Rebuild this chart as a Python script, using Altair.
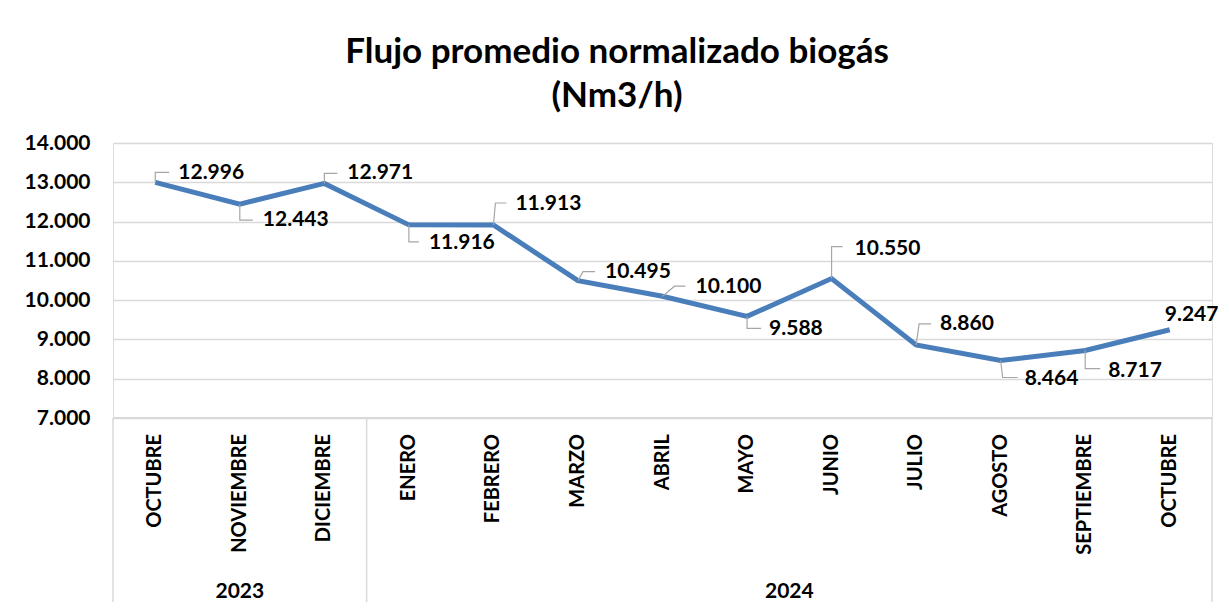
import altair as alt
import pandas as pd

# ---- data ----
meses = ["OCTUBRE", "NOVIEMBRE", "DICIEMBRE", "ENERO", "FEBRERO", "MARZO", "ABRIL",
         "MAYO", "JUNIO", "JULIO", "AGOSTO", "SEPTIEMBRE", "OCTUBRE"]
anios = ["2023", "2023", "2023", "2024", "2024", "2024", "2024",
         "2024", "2024", "2024", "2024", "2024", "2024"]
valores = [12996, 12443, 12971, 11916, 11913, 10495, 10100, 9588, 10550, 8860, 8464, 8717, 9247]
titulo = ["Flujo promedio normalizado biogás", "(Nm3/h)"]
y_ticks = [7000, 8000, 9000, 10000, 11000, 12000, 13000, 14000]

# ---- label placement (pixel offsets from each point; style, not data) ----
elbow_dx = [0, 0, 0, 0, 2, 5, 12, 0, 0, 3, 2, 0, None]
elbow_dy = [-10, 16, -10, 17, -22, -9, -10, 12, -32, -21, 17, 18, None]
end_dx = [14, 13, 13, 10, 13, 17, 23, 14, 11, 15, 17, 15, None]
text_dx = [23, 23, 23, 20, 22, 27, 33, 22, 23, 24, 24, 23, -5]
text_dy = [-9, 16, -10, 18, -21, -9, -9, 13, -30, -21, 19, 20, -15]

W, H = 1099, 275
Y_MIN, Y_MAX = 7000, 14000
N = len(valores)
PX_IDX = W / N
U_PX = (Y_MAX - Y_MIN) / H
FONT = "Lato"
GRID = "#d9d9d9"
LINE = "#4A7EBB"

idx = list(range(N))
etiquetas = [f"{v:,}".replace(",", ".") for v in valores]

df = pd.DataFrame({"i": idx, "mes": meses, "anio": anios, "v": valores, "etq": etiquetas})

df_txt = pd.DataFrame({
    "tx": [i + d / PX_IDX for i, d in zip(idx, text_dx)],
    "ty": [v - d * U_PX for v, d in zip(valores, text_dy)],
    "etq": etiquetas,
})

rows = []
for i, v, ex, ey, nx in zip(idx, valores, elbow_dx, elbow_dy, end_dx):
    if ex is None:
        continue
    yy = v - ey * U_PX
    rows.append({"k": i, "o": 0, "lx": i, "ly": v})
    rows.append({"k": i, "o": 1, "lx": i + ex / PX_IDX, "ly": yy})
    rows.append({"k": i, "o": 2, "lx": i + nx / PX_IDX, "ly": yy})
df_lead = pd.DataFrame(rows)

# year groups
grupos = []
for a in dict.fromkeys(anios):
    ii = [i for i, y in zip(idx, anios) if y == a]
    grupos.append({"anio": a, "c": sum(ii) / len(ii)})
df_years = pd.DataFrame(grupos)
sep = [-0.5]
for k in range(1, N):
    if anios[k] != anios[k - 1]:
        sep.append(k - 0.5)
sep.append(N - 0.5)
df_sep = pd.DataFrame({"s": sep})

xscale = alt.Scale(domain=[-0.5, N - 0.5], nice=False, zero=False)
yscale = alt.Scale(domain=[Y_MIN, Y_MAX], nice=False, zero=False)
yaxis = alt.Axis(values=y_ticks, grid=True, gridColor=GRID, gridWidth=1.3, domain=False,
                 ticks=False, labelFont=FONT, labelFontSize=21, labelFontWeight="bold",
                 labelColor="#000000", labelPadding=23, title=None,
                 labelExpr="replace(format(datum.value, ',.0f'), ',', '.')")


def X(f):
    return alt.X(f, scale=xscale, axis=None)


def Y(f):
    return alt.Y(f, scale=yscale, axis=yaxis)


base = alt.Chart(df)

line = base.mark_line(color=LINE, strokeWidth=5, strokeJoin="miter").encode(
    x=X("i:Q"), y=Y("v:Q"))

leaders = alt.Chart(df_lead).mark_line(color="#a6a6a6", strokeWidth=1.2).encode(
    x=X("lx:Q"), y=Y("ly:Q"), detail="k:N", order="o:Q")

labels = alt.Chart(df_txt).mark_text(
    align="left", baseline="middle", font=FONT, fontSize=21, fontWeight="bold", color="#000000"
).encode(x=X("tx:Q"), y=Y("ty:Q"), text="etq:N")

month_lbl = base.mark_text(
    angle=270, align="right", baseline="middle", font=FONT, fontSize=20, fontWeight="bold",
    color="#000000"
).encode(x=X("i:Q"), y=alt.value(H + 16), text="mes:N")

year_lbl = alt.Chart(df_years).mark_text(
    align="center", baseline="middle", font=FONT, fontSize=21, fontWeight="bold", color="#000000"
).encode(x=X("c:Q"), y=alt.value(H + 174), text="anio:N")

seps = alt.Chart(df_sep).mark_rule(color=GRID, strokeWidth=1.5).encode(
    x=X("s:Q"), y=alt.value(H), y2=alt.value(H + 200))

axis_top = alt.Chart(df_sep).mark_rule(color=GRID, strokeWidth=1.5).encode(
    x=alt.value(0), x2=alt.value(W), y=alt.value(H))

border_left = alt.Chart(df_sep).mark_rule(color=GRID, strokeWidth=1.5).encode(
    x=alt.value(-106), y=alt.value(-139), y2=alt.value(H + 200))
border_top = alt.Chart(df_sep).mark_rule(color=GRID, strokeWidth=1.5).encode(
    x=alt.value(-106), x2=alt.value(W + 50), y=alt.value(-139))

t1 = alt.Chart(pd.DataFrame({"t": [titulo[0]]})).mark_text(
    align="center", baseline="middle", font=FONT, fontSize=35, fontWeight="bold", color="#000000"
).encode(x=alt.value(504), y=alt.value(-91), text="t:N")
t2 = alt.Chart(pd.DataFrame({"t": [titulo[1]]})).mark_text(
    align="center", baseline="middle", font=FONT, fontSize=35, fontWeight="bold", color="#000000"
).encode(x=alt.value(504), y=alt.value(-47), text="t:N")

chart = alt.layer(
    border_left, border_top, axis_top, seps, line, leaders, labels, month_lbl, year_lbl, t1, t2
).properties(
    width=W, height=H,
    autosize=alt.AutoSizeParams(type="none"),
    padding={"left": 105, "top": 135, "right": 9, "bottom": 184},
).configure_view(stroke=None).configure(background="white")

chart.save("out.html", embed_options={"renderer": "svg", "actions": False})
